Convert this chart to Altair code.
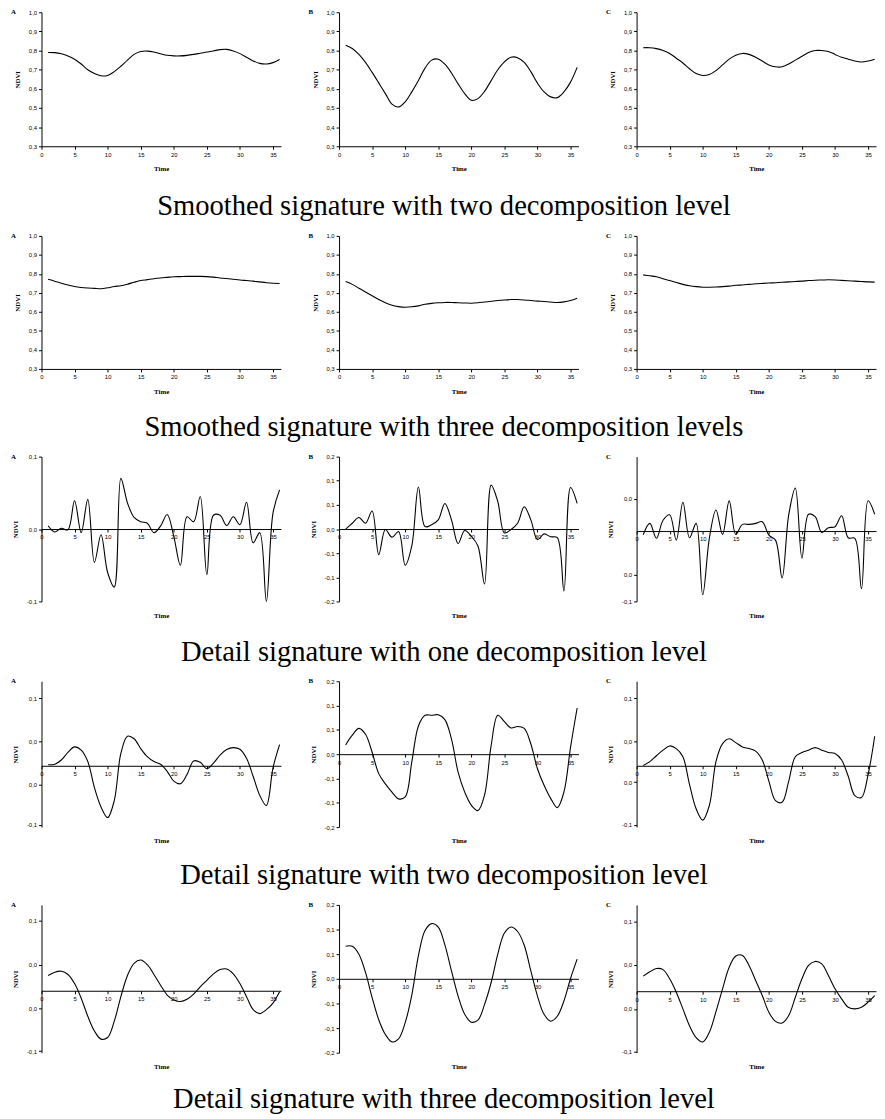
import altair as alt
import pandas as pd

TIME = list(range(1, 37))
X_TICKS = [0, 5, 10, 15, 20, 25, 30, 35]
LETTERS = ["A", "B", "C"]

CAPTIONS = [
    "Smoothed signature with two decomposition level",
    "Smoothed signature with three decomposition levels",
    "Detail signature with one decomposition level",
    "Detail signature with two decomposition level",
    "Detail signature with three decomposition level",
]

# Row 1: smoothed signature, two decomposition levels
S2_A = [0.79, 0.789, 0.783, 0.772, 0.755, 0.73, 0.70, 0.68, 0.668, 0.67, 0.69, 0.718,
        0.75, 0.78, 0.795, 0.797, 0.792, 0.783, 0.775, 0.772, 0.772, 0.775, 0.78, 0.786,
        0.792, 0.798, 0.805, 0.806, 0.798, 0.784, 0.765, 0.746, 0.733, 0.73, 0.737, 0.753]
S2_B = [0.828, 0.811, 0.78, 0.738, 0.686, 0.631, 0.575, 0.52, 0.505, 0.532, 0.584, 0.643,
        0.708, 0.75, 0.755, 0.729, 0.683, 0.626, 0.575, 0.54, 0.549, 0.587, 0.643, 0.70,
        0.741, 0.765, 0.763, 0.738, 0.69, 0.63, 0.584, 0.558, 0.554, 0.584, 0.635, 0.712]
S2_C = [0.815, 0.815, 0.81, 0.80, 0.785, 0.76, 0.735, 0.705, 0.68, 0.67, 0.675, 0.695,
        0.725, 0.755, 0.775, 0.785, 0.78, 0.765, 0.745, 0.725, 0.715, 0.715, 0.73, 0.75,
        0.77, 0.79, 0.80, 0.80, 0.795, 0.78, 0.765, 0.755, 0.745, 0.74, 0.745, 0.755]

# Row 2: smoothed signature, three decomposition levels
S3_A = [0.772, 0.762, 0.751, 0.742, 0.734, 0.729, 0.726, 0.724, 0.722, 0.727, 0.734, 0.738,
        0.746, 0.756, 0.765, 0.77, 0.775, 0.779, 0.782, 0.785, 0.786, 0.787, 0.787, 0.787,
        0.786, 0.783, 0.779, 0.776, 0.772, 0.768, 0.765, 0.762, 0.758, 0.754, 0.751, 0.75]
S3_B = [0.76, 0.745, 0.725, 0.705, 0.685, 0.665, 0.648, 0.635, 0.628, 0.625, 0.627, 0.632,
        0.64, 0.645, 0.648, 0.65, 0.65, 0.648, 0.647, 0.646, 0.648, 0.652, 0.656, 0.66,
        0.663, 0.665, 0.665, 0.663, 0.66, 0.657, 0.655, 0.652, 0.65, 0.653, 0.66, 0.672]
S3_C = [0.795, 0.79, 0.785, 0.775, 0.765, 0.755, 0.745, 0.738, 0.733, 0.73, 0.73, 0.731,
        0.733, 0.736, 0.74, 0.742, 0.745, 0.748, 0.75, 0.752, 0.754, 0.756, 0.758, 0.76,
        0.762, 0.765, 0.767, 0.768, 0.769, 0.768, 0.766, 0.764, 0.762, 0.76, 0.758, 0.757]

# Row 3: detail signature, one decomposition level
D1_A = [0.0046, -0.004, 0.001, -0.001, 0.039, -0.005, 0.041, -0.046, -0.008, -0.06, -0.08, 0.07,
        0.036, 0.016, 0.01, 0.008, -0.005, 0.004, 0.02, -0.01, -0.05, 0.017, 0.01, 0.045,
        -0.063, 0.019, 0.019, 0.005, 0.017, 0.006, 0.037, -0.019, -0.005, -0.1, 0.022, 0.054]
D1_B = [0.0, 0.012, 0.024, 0.012, 0.0375, -0.053, -0.001, -0.017, -0.005, -0.075, -0.035, 0.087,
        0.005, 0.009, 0.019, 0.053, 0.019, -0.03, -0.003, -0.015, -0.035, -0.114, 0.091, 0.057,
        -0.008, -0.001, 0.012, 0.046, 0.019, -0.022, -0.01, -0.016, -0.018, -0.128, 0.086, 0.053]
D1_C = [-0.004, 0.0085, -0.008, 0.012, 0.018, -0.01, 0.032, -0.0074, 0.0085, -0.0706, -0.008, 0.0234,
        -0.0037, 0.0335, -0.0037, 0.0074, 0.0074, 0.0085, 0.0104, -0.0045, -0.01, -0.052, 0.018, 0.0476,
        -0.03, 0.0186, 0.016, -0.0015, 0.0037, 0.0048, 0.017, -0.0074, -0.008, -0.064, 0.0335, 0.0186]

# Row 4: detail signature, two decomposition levels
D2_A = [0.001, 0.0015, 0.0055, 0.0126, 0.0179, 0.0148, 0.004, -0.0206, -0.039, -0.049, -0.033, 0.0117,
        0.028, 0.0256, 0.0163, 0.0086, 0.004, 0.0015, -0.0052, -0.0145, -0.017, -0.0083, 0.0046, 0.0034,
        -0.0028, 0.0025, 0.0102, 0.0154, 0.0172, 0.0157, 0.0071, -0.0099, -0.028, -0.0376, -0.002, 0.02]
D2_B = [0.019, 0.039, 0.053, 0.041, 0.004, -0.04, -0.061, -0.078, -0.092, -0.088, -0.016, 0.058,
        0.08, 0.08, 0.081, 0.071, 0.031, -0.037, -0.078, -0.105, -0.116, -0.084, 0.018, 0.08,
        0.067, 0.054, 0.057, 0.053, 0.021, -0.03, -0.064, -0.091, -0.11, -0.078, 0.014, 0.095]
D2_C = [0.0003, 0.004, 0.0095, 0.0148, 0.0188, 0.0163, 0.0086, -0.0176, -0.0407, -0.0514, -0.0376, 0.004,
        0.021, 0.0256, 0.0219, 0.0179, 0.0163, 0.0139, 0.0055, -0.0145, -0.033, -0.0345, -0.0145, 0.0086,
        0.0126, 0.0148, 0.0172, 0.0148, 0.0126, 0.0117, 0.0055, -0.0099, -0.0283, -0.03, -0.0083, 0.028]

# Row 5: detail signature, three decomposition levels
D3_A = [0.0141, 0.0171, 0.018, 0.015, 0.0066, -0.0069, -0.0235, -0.037, -0.0445, -0.043, -0.028, -0.0054,
        0.0141, 0.0253, 0.0283, 0.024, 0.015, 0.0051, -0.0039, -0.0084, -0.0099, -0.0078, -0.003, 0.0036,
        0.0096, 0.0156, 0.0195, 0.0201, 0.0156, 0.0066, -0.0054, -0.0174, -0.021, -0.0174, -0.0114, -0.001]
D3_B = [0.066, 0.066, 0.05, 0.013, -0.038, -0.083, -0.113, -0.128, -0.122, -0.089, -0.033, 0.047,
        0.098, 0.112, 0.105, 0.069, 0.016, -0.035, -0.072, -0.088, -0.084, -0.052, -0.0075, 0.05,
        0.093, 0.105, 0.096, 0.068, 0.016, -0.035, -0.072, -0.086, -0.076, -0.045, 0.0007, 0.04]
D3_C = [0.014, 0.018, 0.021, 0.02, 0.0115, -0.0009, -0.0164, -0.032, -0.043, -0.047, -0.038, -0.019,
        0.0022, 0.0223, 0.0326, 0.0332, 0.0239, 0.0099, -0.004, -0.0195, -0.028, -0.0295, -0.0226, -0.0056,
        0.0115, 0.0239, 0.0276, 0.0254, 0.0146, 0.0022, -0.0071, -0.0149, -0.0164, -0.0149, -0.0102, -0.004]

# Y axes: domains, tick values and the tick texts shown in the figure
SM_DOMAIN = [0.3, 1.0]
SM_TICKS = [0.3, 0.4, 0.5, 0.6, 0.7, 0.8, 0.9, 1.0]
SM_LABELS = ["0,3", "0,4", "0,5", "0,6", "0,7", "0,8", "0,9", "1,0"]

WIDE_DOMAIN = [-0.15, 0.15]
WIDE_TICKS = [-0.15, -0.1, -0.05, 0.0, 0.05, 0.1, 0.15]
WIDE_LABELS = ["-0,2", "-0,1", "-0,1", "0,0", "0,1", "0,1", "0,2"]

D1A_DOMAIN = [-0.1, 0.1]
D1A_TICKS = [-0.1, 0.0, 0.1]
D1A_LABELS = ["-0,1", "0,0", "0,1"]
D1C_DOMAIN = [-0.078, 0.0825]
D1C_TICKS = [-0.078, -0.048, 0.0357]
D1C_LABELS = ["-0,1", "0,0", "0,0"]

D2A_DOMAIN = [-0.058, 0.08]
D2A_TICKS = [-0.056, -0.0176, 0.0231, 0.064]
D2C_TICKS = [-0.056, -0.0154, 0.0231, 0.064]
D3A_DOMAIN = [-0.057, 0.079]
D3A_TICKS = [-0.0555, -0.0159, 0.024, 0.0642]
D3C_DOMAIN = [-0.057, 0.080]
D3C_TICKS = [-0.0558, -0.0164, 0.0245, 0.0642]
SMALL_LABELS = ["-0,1", "0,0", "0,0", "0,1"]

ROWS = [
    dict(series=[S2_A, S2_B, S2_C], domains=[SM_DOMAIN] * 3, ticks=[SM_TICKS] * 3,
         labels=[SM_LABELS] * 3, height=136, detail=False, cap_offset=21),
    dict(series=[S3_A, S3_B, S3_C], domains=[SM_DOMAIN] * 3, ticks=[SM_TICKS] * 3,
         labels=[SM_LABELS] * 3, height=135, detail=False, cap_offset=19),
    dict(series=[D1_A, D1_B, D1_C], domains=[D1A_DOMAIN, WIDE_DOMAIN, D1C_DOMAIN],
         ticks=[D1A_TICKS, WIDE_TICKS, D1C_TICKS], labels=[D1A_LABELS, WIDE_LABELS, D1C_LABELS],
         height=147, detail=True, cap_offset=20),
    dict(series=[D2_A, D2_B, D2_C], domains=[D2A_DOMAIN, WIDE_DOMAIN, D2A_DOMAIN],
         ticks=[D2A_TICKS, WIDE_TICKS, D2C_TICKS], labels=[SMALL_LABELS, WIDE_LABELS, SMALL_LABELS],
         height=148, detail=True, cap_offset=18),
    dict(series=[D3_A, D3_B, D3_C], domains=[D3A_DOMAIN, WIDE_DOMAIN, D3C_DOMAIN],
         ticks=[D3A_TICKS, WIDE_TICKS, D3C_TICKS], labels=[SMALL_LABELS, WIDE_LABELS, SMALL_LABELS],
         height=150, detail=True, cap_offset=16),
]

SERIF = "Liberation Serif"
SANS = "Liberation Sans"
W = 243
X_MAX = 36.2


def label_expr(ticks, labels):
    parts = [f"abs(datum.value - ({v})) < 1e-7 ? '{t}'" for v, t in zip(ticks, labels)]
    return " : ".join(parts) + " : ''"


def panel(values, letter, ydom, yticks, ylabels, height, detail):
    df = pd.DataFrame({"Time": TIME, "NDVI": values})
    x_kwargs = dict(values=X_TICKS, title="Time", format="d", labelFlush=False,
                    labelOverlap=False, titlePadding=8)
    if detail:
        zero_px = height * ydom[1] / (ydom[1] - ydom[0])
        x_kwargs.update(offset=zero_px - height, titleY=height - zero_px + 10)
    x_axis = alt.Axis(**x_kwargs)
    y_axis = alt.Axis(values=yticks, title="NDVI", labelExpr=label_expr(yticks, ylabels),
                      labelOverlap=False, labelFlush=False, titlePadding=8)
    line = alt.Chart(df).mark_line(interpolate="catmull-rom", color="black",
                                   strokeWidth=1.1).encode(
        x=alt.X("Time:Q", scale=alt.Scale(domain=[0, X_MAX], nice=False, zero=False), axis=x_axis),
        y=alt.Y("NDVI:Q", scale=alt.Scale(domain=ydom, nice=False, zero=False), axis=y_axis),
    )
    tag = alt.Chart(pd.DataFrame({"tag": [letter]})).mark_text(
        align="left", baseline="middle", font=SERIF, fontWeight="bold", fontSize=7, color="black"
    ).encode(text="tag:N", x=alt.value(-31), y=alt.value(0))
    return alt.layer(line, tag).properties(width=W, height=height)


rows = []
for caption, row in zip(CAPTIONS, ROWS):
    panels = [
        panel(row["series"][i], LETTERS[i], row["domains"][i], row["ticks"][i],
              row["labels"][i], row["height"], row["detail"])
        for i in range(3)
    ]
    rows.append(alt.hconcat(*panels, spacing=27, title=alt.TitleParams(
        text=caption, orient="bottom", anchor="middle", font=SERIF, fontSize=29,
        fontWeight="normal", color="black", offset=row["cap_offset"])))

chart = alt.vconcat(*rows, spacing=11).properties(
    padding={"left": 3, "top": -8, "right": 0, "bottom": 0}, background="white"
).configure_view(stroke=None).configure_axis(
    domainColor="black", tickColor="black", labelColor="black", titleColor="black",
    labelFont=SANS, labelFontSize=6, titleFont=SERIF, titleFontSize=7, titleFontWeight="bold",
    tickSize=3, labelPadding=2, grid=False, domainWidth=1, tickWidth=1,
)

chart.save("out.html", embed_options={"renderer": "svg", "actions": False})
